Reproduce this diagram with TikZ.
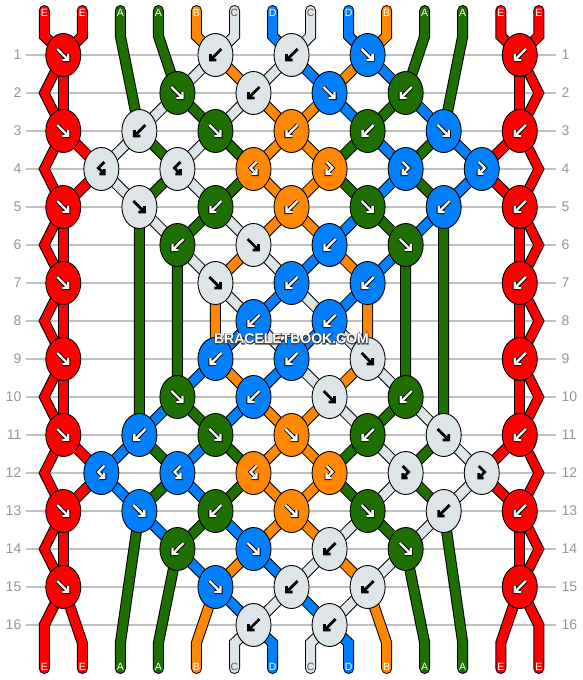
\documentclass[tikz,border=0pt]{standalone}
\usepackage{fontspec}
\setmainfont{Liberation Sans}
\usetikzlibrary{shapes.geometric}
\definecolor{cE}{RGB}{255,0,0}
\definecolor{cA}{RGB}{30,110,0}
\definecolor{cB}{RGB}{255,136,0}
\definecolor{cC}{RGB}{222,229,232}
\definecolor{cD}{RGB}{0,128,255}
\definecolor{rowgrey}{RGB}{192,192,192}
\definecolor{numgrey}{RGB}{150,150,150}
\definecolor{labdark}{RGB}{85,85,85}
\definecolor{wmdark}{RGB}{70,70,70}
\def\lgname{cC}
\newcommand\bknot[4]{%
  \node[knot,fill=#3] (k#1-#2) at (c#1-#2) {};%
  \def\kc{#3}%
  \ifx\kc\lgname\pic at (k#1-#2) {#4=barrow};\else\pic at (k#1-#2) {#4=warrow};\fi}
\begin{document}
\begin{tikzpicture}[x=1pt,y=-1pt,
 strand/.style={line width=1pt, double=#1, double distance=9pt, line cap=round, line join=miter},
 knot/.style={ellipse, draw=black, line width=0.9pt, minimum width=35pt, minimum height=43pt, inner sep=0pt},
 warrow/.style={line width=0.9pt, draw=black, double=white, double distance=2.3pt, line join=miter, line cap=butt},
 barrow/.style={line width=2.8pt, draw=black, line join=miter, line cap=butt},
 zig/.style={fill=cE, draw=black, line width=0.9pt, line join=miter},
 rowline/.style={draw=rowgrey, line width=1.5pt},
 rownum/.style={text=numgrey, font=\fontsize{14}{14}\selectfont, inner sep=0pt},
 strlab/.style={font=\fontsize{10.5}{10.5}\selectfont, inner sep=0pt},
 wm/.style={font=\fontsize{14}{14}\selectfont\bfseries, inner sep=0pt},
 pics/se/.style={code={\draw[#1] (-6,-6)--(5,5) (5,-1)--(5,5)--(-1,5);}},
 pics/sw/.style={code={\draw[#1] (6,-6)--(-5,5) (-5,-1)--(-5,5)--(1,5);}},
 pics/bf/.style={code={\draw[#1] (3,-7)--(-3,-1)--(3,5) (3,0)--(3,5)--(-2,5);}},
 pics/fb/.style={code={\draw[#1] (-3,-7)--(3,-1)--(-3,5) (-3,0)--(-3,5)--(2,5);}},
]
\useasboundingbox (0,0) rectangle (582,680);
% coordinates
\foreach \r in {1,...,16} {
  \foreach \i in {0,...,12} {\coordinate (c\r-\i) at ({63.3+38.04*\i},{17+38*\r});}
  \coordinate (zl\r) at (44.3,{17+38*\r});
  \coordinate (zr\r) at (538.8,{17+38*\r});
}
\foreach \i in {0,...,13} {
  \coordinate (t\i) at ({44.3+38.04*\i},10.5);
  \coordinate (u\i) at ({44.3+38.04*\i},36);
  \coordinate (v\i) at ({44.3+38.04*\i},643);
  \coordinate (w\i) at ({44.3+38.04*\i},668.5);
}
% row lines and numbers
\foreach \r in {1,...,16} {
  \draw[rowline] (26,{17+38*\r}) -- (556,{17+38*\r});
  \node[rownum,anchor=east] (nl\r) at (21.5,{17+38*\r}) {\r};
  \node[rownum,anchor=west] (nr\r) at (561.5,{17+38*\r}) {\r};
}
% red edge strands
\foreach \r in {2,4,...,14} {
  \pgfmathtruncatemacro\ra{\r-1}\pgfmathtruncatemacro\rb{\r+1}
  \filldraw[zig] ([xshift=-5.3pt]c\ra-0) -- ([xshift=-5.3pt]zl\r) -- ([xshift=-5.3pt]c\rb-0)
    -- ([xshift=5.3pt]c\rb-0) -- ([xshift=5.3pt]zl\r) -- ([xshift=5.3pt]c\ra-0) -- cycle;
  \filldraw[zig] ([xshift=-5.3pt]c\ra-12) -- ([xshift=-5.3pt]zr\r) -- ([xshift=-5.3pt]c\rb-12)
    -- ([xshift=5.3pt]c\rb-12) -- ([xshift=5.3pt]zr\r) -- ([xshift=5.3pt]c\ra-12) -- cycle;
}
\draw[strand=cE] (t0)--(u0)--(c1-0);
\draw[strand=cE] (t1)--(u1)--(c1-0);
\draw[strand=cE] (c1-0)--(c3-0) (c5-0)--(c7-0) (c7-0)--(c9-0) (c9-0)--(c11-0) (c13-0)--(c15-0);
\draw[strand=cE] (c3-0)--(c4-1)--(c5-0);
\draw[strand=cE] (c11-0)--(c12-1)--(c13-0);
\draw[strand=cE] (c15-0)--(zl16)--(w0);
\draw[strand=cE] (c15-0)--(v1)--(w1);
\draw[strand=cE] (t12)--(u12)--(c1-12);
\draw[strand=cE] (t13)--(u13)--(c1-12);
\draw[strand=cE] (c1-12)--(c3-12) (c5-12)--(c7-12) (c7-12)--(c9-12) (c9-12)--(c11-12) (c13-12)--(c15-12);
\draw[strand=cE] (c3-12)--(c4-11)--(c5-12);
\draw[strand=cE] (c11-12)--(c12-11)--(c13-12);
\draw[strand=cE] (c15-12)--(v12)--(w12);
\draw[strand=cE] (c15-12)--(zr16)--(w13);
% inner strands
\draw[strand=cA] (t2)--(u2)--(c3-2)--(c4-3)--(c5-2)--(c11-2)--(c12-3)--(c13-2)--(v2)--(w2);
\draw[strand=cA] (t3)--(u3)--(c2-3)--(c3-4)--(c4-5)--(c5-4)--(c6-3)--(c10-3)--(c11-4)--(c12-5)--(c13-4)--(c14-3)--(v3)--(w3);
\draw[strand=cB] (t4)--(u4)--(c1-4)--(c2-5)--(c3-6)--(c4-7)--(c5-6)--(c6-5)--(c7-4)--(c9-4)--(c10-5)--(c11-6)--(c12-7)--(c13-6)--(c14-5)--(c15-4)--(v4)--(w4);
\draw[strand=cC] (t5)--(u5)--(c1-4)--(c2-3)--(c3-2)--(c4-1)--(c5-2)--(c6-3)--(c7-4)--(c8-5)--(c9-6)--(c10-7)--(c11-8)--(c12-9)--(c13-8)--(c14-7)--(c15-6)--(c16-5)--(v5)--(w5);
\draw[strand=cD] (t6)--(u6)--(c1-6)--(c2-7)--(c3-8)--(c4-9)--(c5-8)--(c6-7)--(c7-6)--(c8-5)--(c9-4)--(c10-3)--(c11-2)--(c12-1)--(c13-2)--(c14-3)--(c15-4)--(c16-5)--(v6)--(w6);
\draw[strand=cC] (t7)--(u7)--(c1-6)--(c2-5)--(c3-4)--(c4-3)--(c5-4)--(c6-5)--(c7-6)--(c8-7)--(c9-8)--(c10-9)--(c11-10)--(c12-11)--(c13-10)--(c14-9)--(c15-8)--(c16-7)--(v7)--(w7);
\draw[strand=cD] (t8)--(u8)--(c1-8)--(c2-9)--(c3-10)--(c4-11)--(c5-10)--(c6-9)--(c7-8)--(c8-7)--(c9-6)--(c10-5)--(c11-4)--(c12-3)--(c13-4)--(c14-5)--(c15-6)--(c16-7)--(v8)--(w8);
\draw[strand=cB] (t9)--(u9)--(c1-8)--(c2-7)--(c3-6)--(c4-5)--(c5-6)--(c6-7)--(c7-8)--(c9-8)--(c10-7)--(c11-6)--(c12-5)--(c13-6)--(c14-7)--(c15-8)--(v9)--(w9);
\draw[strand=cA] (t10)--(u10)--(c2-9)--(c3-8)--(c4-7)--(c5-8)--(c6-9)--(c10-9)--(c11-8)--(c12-7)--(c13-8)--(c14-9)--(v10)--(w10);
\draw[strand=cA] (t11)--(u11)--(c3-10)--(c4-9)--(c5-10)--(c11-10)--(c12-9)--(c13-10)--(v11)--(w11);
% knots
\bknot{1}{0}{cE}{se}\bknot{1}{4}{cC}{sw}\bknot{1}{6}{cC}{sw}\bknot{1}{8}{cD}{se}\bknot{1}{12}{cE}{sw}
\bknot{2}{3}{cA}{se}\bknot{2}{5}{cC}{sw}\bknot{2}{7}{cD}{se}\bknot{2}{9}{cA}{sw}
\bknot{3}{0}{cE}{se}\bknot{3}{2}{cC}{sw}\bknot{3}{4}{cA}{se}\bknot{3}{6}{cB}{sw}\bknot{3}{8}{cA}{sw}\bknot{3}{10}{cD}{se}\bknot{3}{12}{cE}{sw}
\bknot{4}{1}{cC}{bf}\bknot{4}{3}{cC}{bf}\bknot{4}{5}{cB}{bf}\bknot{4}{7}{cB}{fb}\bknot{4}{9}{cD}{fb}\bknot{4}{11}{cD}{fb}
\bknot{5}{0}{cE}{se}\bknot{5}{2}{cC}{se}\bknot{5}{4}{cA}{sw}\bknot{5}{6}{cB}{sw}\bknot{5}{8}{cA}{se}\bknot{5}{10}{cD}{sw}\bknot{5}{12}{cE}{sw}
\bknot{6}{3}{cA}{sw}\bknot{6}{5}{cC}{se}\bknot{6}{7}{cD}{sw}\bknot{6}{9}{cA}{se}
\bknot{7}{0}{cE}{se}\bknot{7}{4}{cC}{se}\bknot{7}{6}{cD}{sw}\bknot{7}{8}{cD}{sw}\bknot{7}{12}{cE}{sw}
\bknot{8}{5}{cD}{sw}\bknot{8}{7}{cD}{sw}
\bknot{9}{0}{cE}{se}\bknot{9}{4}{cD}{sw}\bknot{9}{6}{cD}{sw}\bknot{9}{8}{cC}{se}\bknot{9}{12}{cE}{sw}
\bknot{10}{3}{cA}{se}\bknot{10}{5}{cD}{sw}\bknot{10}{7}{cC}{se}\bknot{10}{9}{cA}{sw}
\bknot{11}{0}{cE}{se}\bknot{11}{2}{cD}{sw}\bknot{11}{4}{cA}{se}\bknot{11}{6}{cB}{se}\bknot{11}{8}{cA}{sw}\bknot{11}{10}{cC}{se}\bknot{11}{12}{cE}{sw}
\bknot{12}{1}{cD}{bf}\bknot{12}{3}{cD}{bf}\bknot{12}{5}{cB}{bf}\bknot{12}{7}{cB}{fb}\bknot{12}{9}{cC}{fb}\bknot{12}{11}{cC}{fb}
\bknot{13}{0}{cE}{se}\bknot{13}{2}{cD}{se}\bknot{13}{4}{cA}{sw}\bknot{13}{6}{cB}{se}\bknot{13}{8}{cA}{se}\bknot{13}{10}{cC}{sw}\bknot{13}{12}{cE}{sw}
\bknot{14}{3}{cA}{sw}\bknot{14}{5}{cD}{se}\bknot{14}{7}{cC}{sw}\bknot{14}{9}{cA}{se}
\bknot{15}{0}{cE}{se}\bknot{15}{4}{cD}{se}\bknot{15}{6}{cC}{sw}\bknot{15}{8}{cC}{sw}\bknot{15}{12}{cE}{sw}
\bknot{16}{5}{cC}{sw}\bknot{16}{7}{cC}{sw}
% strand letters
\foreach \i/\l/\c in {0/E/white,1/E/white,2/A/white,3/A/white,4/B/white,5/C/labdark,6/D/white,7/C/labdark,8/D/white,9/B/white,10/A/white,11/A/white,12/E/white,13/E/white} {
  \node[strlab,text=\c] (lt\i) at ({44.3+38.04*\i},12.7) {\l};
  \node[strlab,text=\c] (lb\i) at ({44.3+38.04*\i},667.3) {\l};
}
% watermark: dark stroked outline underneath, white letters on top
\node[wm,text=white] (wmo) at (291.5,339) {\special{pdf:code 1 Tr 0.27 0.27 0.27 RG 1.4 w}BRACELETBOOK.COM\special{pdf:code 0 Tr 1 w}};
\node[wm,text=white] (wm) at (291.5,339) {BRACELETBOOK.COM};
\end{tikzpicture}
\end{document}
